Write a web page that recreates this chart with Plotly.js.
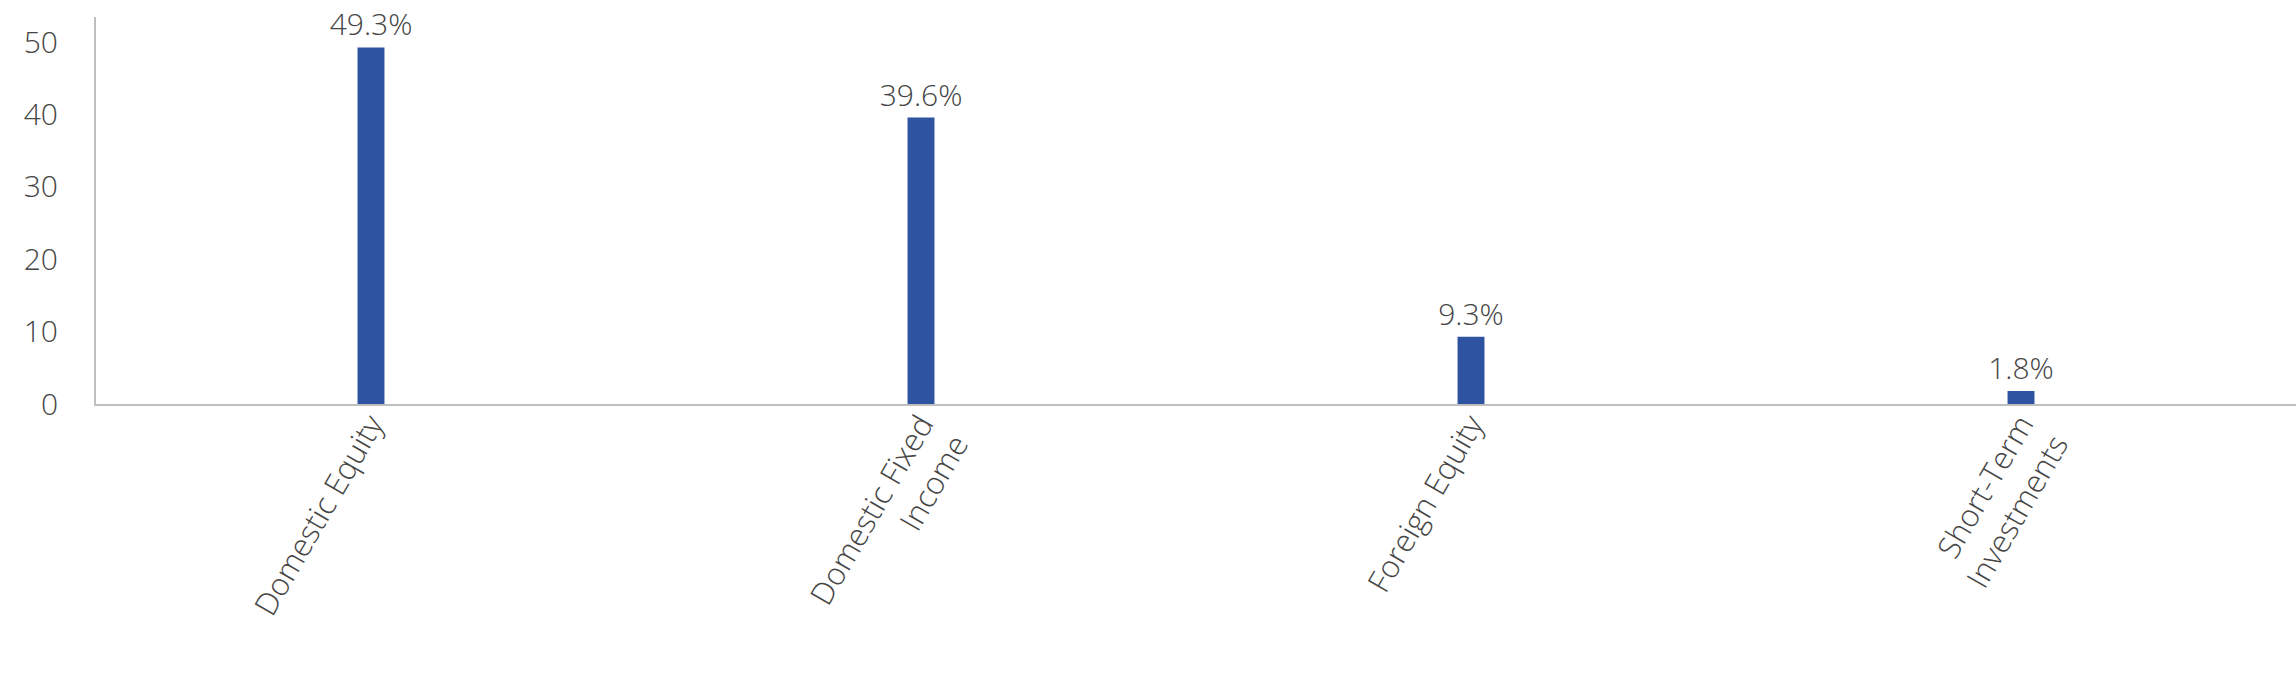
<!DOCTYPE html>
<html>
<head>
<meta charset="utf-8">
<script src="https://cdn.plot.ly/plotly-3.0.1.min.js"></script>
<style>
html,body{margin:0;padding:0;background:#fff;}
#chart{width:2296px;height:692px;}
</style>
</head>
<body>
<div id="chart"></div>
<script>
const categories = ["Domestic Equity", "Domestic Fixed<br>Income", "Foreign Equity", "Short-Term<br>Investments"];
const values = [49.3, 39.6, 9.3, 1.8];
const yTickVals = [0, 10, 20, 30, 40, 50];

const FONT = "'Open Sans', Lato, sans-serif";
const GREY = "#454545";

Plotly.newPlot("chart", [{
  type: "bar",
  x: categories,
  y: values,
  width: 0.049,
  marker: {color: "#2E53A0"},
  texttemplate: "%{y:.1f}%",
  textposition: "outside",
  constraintext: "none",
  cliponaxis: false,
  textfont: {family: FONT, size: 30, color: GREY, weight: 300},
  hoverinfo: "skip"
}], {
  width: 2296,
  height: 692,
  margin: {l: 96, r: 0, t: 17, b: 288},
  paper_bgcolor: "#fff",
  plot_bgcolor: "#fff",
  showlegend: false,
  font: {family: FONT, color: GREY},
  xaxis: {
    type: "category",
    showgrid: false,
    showline: true,
    linecolor: "#BFBFBF",
    linewidth: 2,
    ticks: "",
    tickangle: -60,
    ticklabelstandoff: -12,
    tickfont: {family: FONT, size: 31, color: GREY, weight: 300},
    zeroline: false
  },
  yaxis: {
    range: [0, 53.5],
    tickvals: yTickVals,
    ticktext: yTickVals.map(String),
    showgrid: false,
    showline: true,
    linecolor: "#BFBFBF",
    linewidth: 2,
    ticks: "",
    zeroline: false,
    ticklabelstandoff: 30,
    tickfont: {family: FONT, size: 30, color: GREY, weight: 300}
  }
}, {displayModeBar: false, staticPlot: true});
</script>
</body>
</html>
